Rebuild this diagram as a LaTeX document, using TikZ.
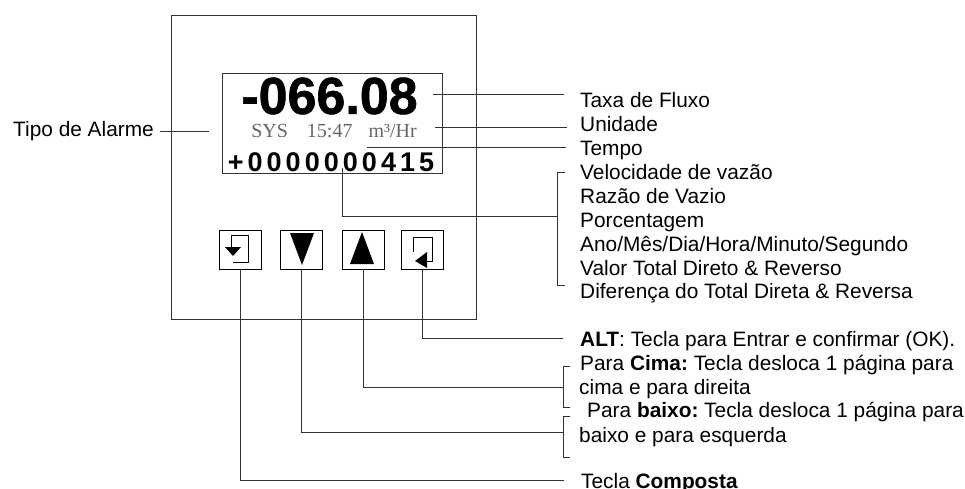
\documentclass[tikz,border=0pt]{standalone}
\usepackage{fontspec}
\setmainfont{Liberation Sans}
\newfontfamily\lcdfont{Liberation Serif}
\newfontfamily\countfont[LetterSpace=15]{Liberation Sans}
\newfontfamily\flowfont[FakeBold=1.2]{Liberation Sans Bold}
\usetikzlibrary{positioning, calc}
\definecolor{linegray}{gray}{0.2}
\frenchspacing
\tikzset{
    panelbox/.style={draw=linegray, line width=0.9pt, inner sep=0pt},
    keybox/.style={draw=black, line width=1pt, inner sep=0pt, minimum width=42pt, minimum height=39pt},
    leader/.style={draw=linegray, line width=0.9pt},
    tag/.style={anchor=base west, inner sep=0pt, font=\fontsize{20.85}{23}\selectfont}
}

\begin{document}
\begin{tikzpicture}[x=1pt, y=-1pt]
    \useasboundingbox (0, 0) rectangle (965, 489);
    % panel and display
    \node[panelbox, minimum width=305pt, minimum height=304pt] (panel) at (323.5, 167) {};
    \node[panelbox, minimum width=220pt, minimum height=100pt] (display) at (332, 123) {};
    \node[inner sep=0pt, font=\flowfont\fontsize{52}{52}\selectfont] (flow) at (329.5, 96) {-066.08};
    \node[inner sep=0pt, text=black!60, font=\lcdfont\fontsize{20}{20}\selectfont] (status) at (334, 131)
        {SYS\hspace{19pt}15:47\hspace{16pt}m³/Hr};
    \node[inner sep=0pt, font=\countfont\fontsize{27}{27}\bfseries\selectfont] (total) at (331, 162) {+0000000415};
    % keys
    \node[keybox] (keyfn) at (240, 249.5) {};
    \node[keybox] (keydown) at (301, 249.5) {};
    \node[keybox] (keyup) at (363, 249.5) {};
    \node[keybox] (keyalt) at (422.5, 249.5) {};
    \draw[line width=1pt] (231, 247) -- (231, 235) -- (248, 235) -- (248, 262) -- (233, 262);
    \fill (225, 247) -- (241, 247) -- (233, 256) -- cycle;
    \fill (290, 233) -- (314, 233) -- (302, 265) -- cycle;
    \fill (362, 232) -- (350, 264) -- (374, 264) -- cycle;
    \draw[line width=1pt] (413, 252) -- (413, 237) -- (432, 237) -- (432, 261) -- (427, 261);
    \fill (415, 261) -- (427, 252) -- (427, 268) -- cycle;
    % labels
    \node[tag] (alarmtag) at (13, 137) {Tipo de Alarme};
    \node[tag] (flowtag) at (580, 108) {Taxa de Fluxo};
    \node[tag] (unittag) at (580, 132) {Unidade};
    \node[tag] (timetag) at (580, 155.5) {Tempo};
    \node[tag] (speedtag) at (580, 179.5) {Velocidade de vazão};
    \node[tag] (ratiotag) at (580, 203) {Razão de Vazio};
    \node[tag] (percenttag) at (580, 227) {Porcentagem};
    \node[tag] (datetag) at (580, 251) {Ano/Mês/Dia/Hora/Minuto/Segundo};
    \node[tag] (valuetag) at (580, 275) {Valor Total Direto \& Reverso};
    \node[tag] (difftag) at (580, 298) {Diferença do Total Direta \& Reversa};
    \node[tag] (alttag) at (580, 346) {\textbf{ALT}: Tecla para Entrar e confirmar (OK).};
    \node[tag] (uptag) at (580, 370) {Para \textbf{Cima:} Tecla desloca 1 página para};
    \node[tag] (uptagb) at (579, 394.5) {cima e para direita};
    \node[tag] (downtag) at (587, 417.5) {Para \textbf{baixo:} Tecla desloca 1 página para};
    \node[tag] (downtagb) at (579, 442) {baixo e para esquerda};
    \node[tag] (fntag) at (581, 488) {Tecla \textbf{Composta}};
    % free ends of the leaders
    \coordinate (alarmend) at (209, 131);
    \coordinate (alarmstart) at (160, 131);
    \coordinate (flowstart) at (433, 94);
    \coordinate (flowend) at (564, 94);
    \coordinate (unitstart) at (435, 127);
    \coordinate (unitend) at (567, 127);
    \coordinate (timestart) at (367, 147);
    \coordinate (timeend) at (566, 147);
    \coordinate (totalstart) at (342, 168);
    \coordinate (totalbrace) at (557, 216);
    \coordinate (altend) at (563, 338);
    \coordinate (upbrace) at (563, 387);
    \coordinate (downbrace) at (563, 432);
    \coordinate (fnend) at (564, 480);
    % leaders
    \draw[leader] (alarmstart) -- (alarmend);
    \draw[leader] (flowstart) -- (flowend);
    \draw[leader] (unitstart) -- (unitend);
    \draw[leader] (timestart) -- (timeend);
    \draw[leader] (totalstart) |- (totalbrace);
    \draw[leader] (565, 172) -- (557, 172) -- (557, 285) -- (565, 285);
    \draw[leader] (keyalt.south) |- (altend);
    \draw[leader] (keyup.south) |- (upbrace);
    \draw[leader] (570, 366) -- (563, 366) -- (563, 407) -- (570, 407);
    \draw[leader] (keydown.south) |- (downbrace);
    \draw[leader] (570, 416) -- (563, 416) -- (563, 457) -- (570, 457);
    \draw[leader] (keyfn.south) |- (fnend);
\end{tikzpicture}
\end{document}
